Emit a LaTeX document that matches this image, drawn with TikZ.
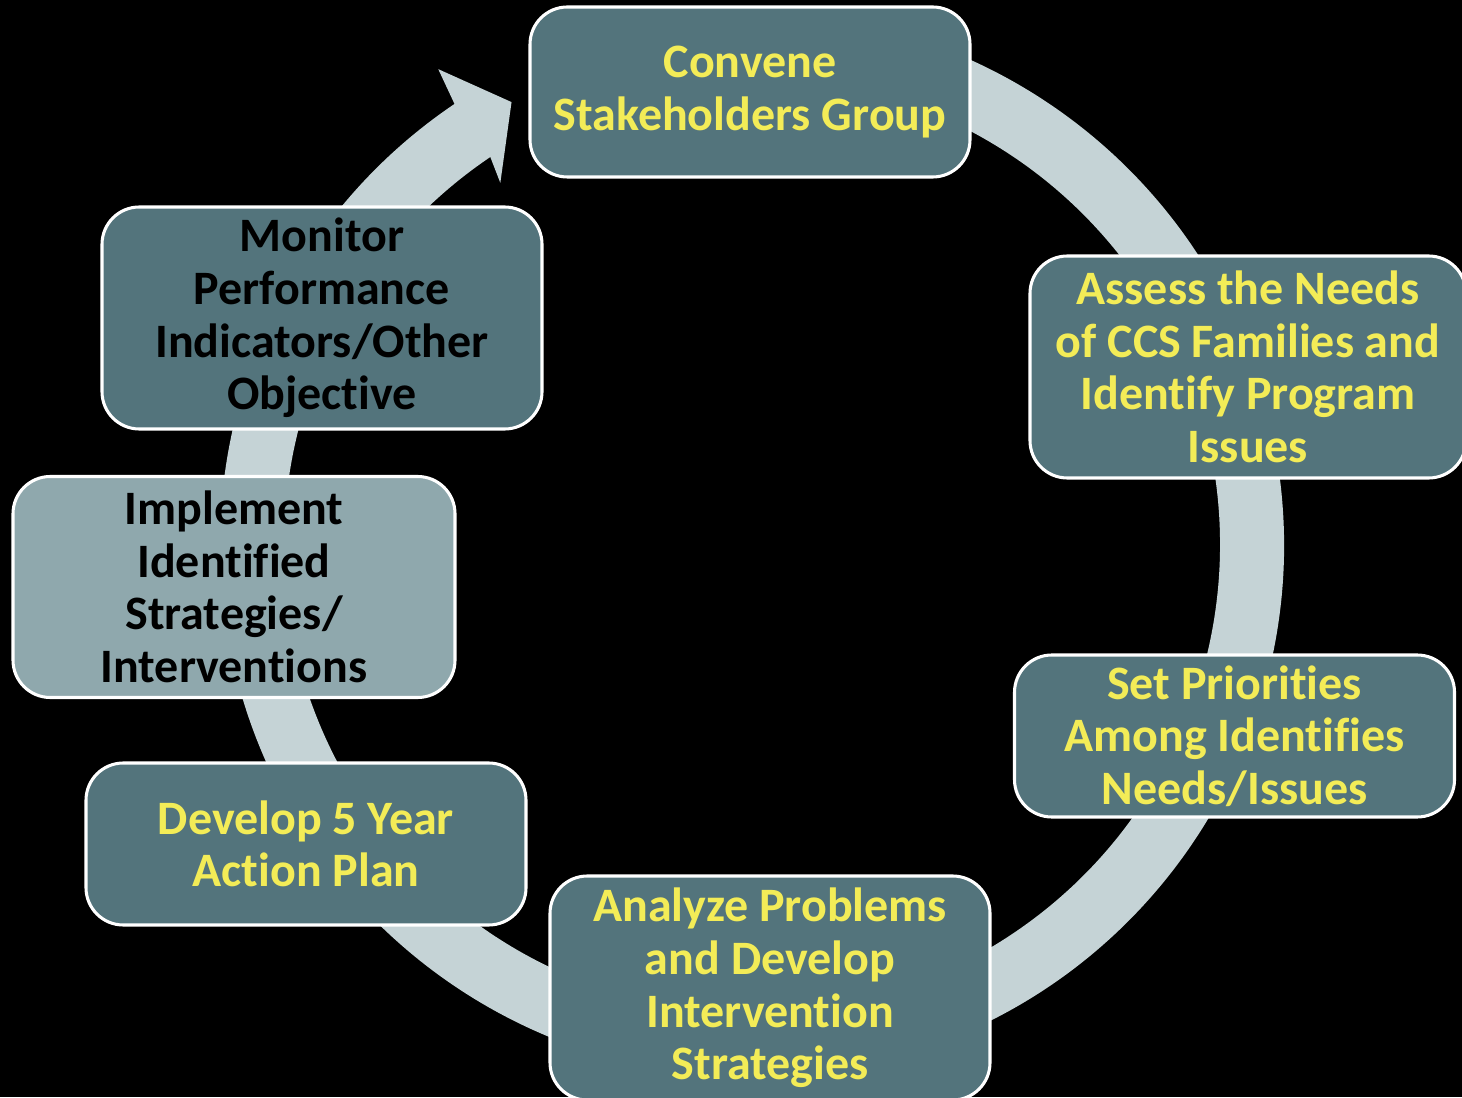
\documentclass[tikz,border=0pt]{standalone}
\usepackage{fontspec}
\setmainfont{Carlito}[Ligatures=NoCommon]
\usepackage{tikz}
\definecolor{slate}{HTML}{53747C}
\definecolor{paleslate}{HTML}{8FA8AD}
\definecolor{ringgray}{HTML}{C5D3D6}
\definecolor{hiyellow}{HTML}{F3EC57}
\newcommand\stagefont{\bfseries\fontsize{36}{39.4}\selectfont}

\begin{document}
\begin{tikzpicture}[x=0.75pt,y=0.75pt]
\tikzstyle{stage}=[draw=white,line width=2.3pt,rounded corners=28pt,fill=slate,text=hiyellow,align=center,font=\stagefont,inner sep=0pt,minimum width=330pt]
\tikzstyle{darktext}=[text=black]
\useasboundingbox[fill=black] (0,0) rectangle (1462,1097);
% cycle ring with arrow head at the top left
\fill[ringgray,shift={(752,552)}] (100:532) arc[start angle=100,end angle=-236,radius=532]
  -- (123.4:570) -- (118.5:504) -- (124.8:441) -- (-236:468)
  arc[start angle=-236,end angle=100,radius=468] -- cycle;
% stages
\node[stage,minimum height=127.5pt] (convene) at (750,1005) {Convene\\Stakeholders Group};
\node[stage,minimum width=327pt,minimum height=166.5pt] (assess) at (1248,730) {Assess the Needs\\of CCS Families and\\Identify Program\\Issues};
\node[stage,minimum height=121.5pt] (prior) at (1234.5,361) {Set Priorities\\Among Identifies\\Needs/Issues};
\node[stage,minimum height=168pt] (analyze) at (770,109) {Analyze Problems\\and Develop\\Intervention\\Strategies};
\node[stage,minimum height=121.5pt] (plan) at (306,253) {Develop 5 Year\\Action Plan};
\node[stage,darktext,fill=paleslate,minimum width=331.5pt,minimum height=165.75pt] (implement) at (234,510) {Implement\\Identified\\Strategies/\\Interventions};
\node[stage,darktext,minimum height=166.5pt] (monitor) at (322,779) {Monitor\\Performance\\Indicators/Other\\Objective};
\end{tikzpicture}
\end{document}
